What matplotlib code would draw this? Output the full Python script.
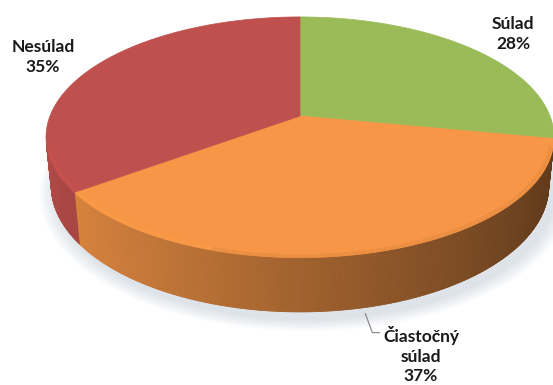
import numpy as np
import matplotlib.pyplot as plt
from matplotlib.collections import PolyCollection
from matplotlib.patches import Polygon

plt.rcParams['font.family'] = ['Lato', 'DejaVu Sans']

labels = ['Súlad', 'Čiastočný\nsúlad', 'Nesúlad']
values = [28, 37, 35]
colors = ['#9bbb59', '#f79646', '#c0504d']

# camera for the tilted pie (perspective view of a unit disk)
elev = np.radians(27.8)
dist = 5.0
thick = 0.22
scale = 1250.0
cx, cy = 300.0, 116.0
ce, se = np.cos(elev), np.sin(elev)


def proj(x, y, z):
    depth = dist + y * ce - z * se
    return cx + scale * x / depth, cy - scale * (y * se + z * ce) / depth


def shade(col, k):
    r, g, b = plt.matplotlib.colors.to_rgb(col)
    return (min(r * k, 1), min(g * k, 1), min(b * k, 1))


fig = plt.figure(figsize=(5.53, 3.85), dpi=100)
ax = fig.add_axes([0, 0, 1, 1])
ax.set_xlim(0, 553)
ax.set_ylim(385, 0)
ax.axis('off')

# soft shadow under the disk
tt = np.linspace(0, 2 * np.pi, 400)
for r in np.linspace(1.06, 1.0, 8):
    px, py = proj(r * np.cos(tt) + 0.02, r * np.sin(tt) - 0.03, -thick - 0.01)
    ax.add_patch(Polygon(np.column_stack([px, py]), closed=True,
                         facecolor='#aab6c8', edgecolor='none', alpha=0.05, zorder=1))

total = float(sum(values))
bounds = [np.pi / 2]
for v in values:
    bounds.append(bounds[-1] - 2 * np.pi * v / total)

# outer walls (only the side facing the camera)
quads, qcols = [], []
for i, col in enumerate(colors):
    ts = np.linspace(bounds[i], bounds[i + 1], 300)
    for a, b in zip(ts[:-1], ts[1:]):
        m = 0.5 * (a + b)
        if np.sin(m) > -1.0 / (dist * ce):
            continue
        x0, y0 = proj(np.cos(a), np.sin(a), 0)
        x1, y1 = proj(np.cos(b), np.sin(b), 0)
        x2, y2 = proj(np.cos(b), np.sin(b), -thick)
        x3, y3 = proj(np.cos(a), np.sin(a), -thick)
        quads.append([(x0, y0), (x1, y1), (x2, y2), (x3, y3)])
        qcols.append(shade(col, 0.65 - 0.27 * np.cos(m)))
ax.add_collection(PolyCollection(quads, facecolors=qcols, edgecolors=qcols,
                                 linewidths=0.6, zorder=2))

# top faces
for i, col in enumerate(colors):
    ts = np.linspace(bounds[i], bounds[i + 1], 200)
    px, py = proj(np.cos(ts), np.sin(ts), 0)
    pts = np.vstack([[cx, cy], np.column_stack([px, py])])
    ax.add_patch(Polygon(pts, closed=True, facecolor=col, edgecolor=col,
                         linewidth=0.5, zorder=3))

    # soft bevel along the front rim: light on the left, dark on the right
    front = ts[np.sin(ts) < -0.25]
    for a, b in zip(front[:-1], front[1:]):
        m = 0.5 * (a + b)
        k = 1.15 if np.cos(m) < -0.3 else 0.75
        fx, fy = proj(0.99 * np.cos([a, b]), 0.99 * np.sin([a, b]), 0)
        ax.plot(fx, fy, color=shade(col, k), lw=2.5, alpha=0.18,
                solid_capstyle='butt', zorder=4)

# labels
label_pos = [(513, 34), (421, 355), (43, 57)]
for lab, v, (lx, ly) in zip(labels, values, label_pos):
    ax.text(lx, ly, f'{lab}\n{v}%', ha='center', va='center',
            fontsize=12.5, fontweight='bold', color='#1a1a1a',
            linespacing=1.25, zorder=6)

# leader line for the front slice
mid = 0.5 * (bounds[1] + bounds[2])
lx0, ly0 = proj(np.cos(mid), np.sin(mid), -thick)
ax.plot([lx0 + 1, lx0 + 8, lx0 + 15], [ly0 + 6, ly0 + 25, ly0 + 25],
        color='#8c8c8c', lw=0.9, zorder=5)

fig.savefig('out.png', dpi=100)
